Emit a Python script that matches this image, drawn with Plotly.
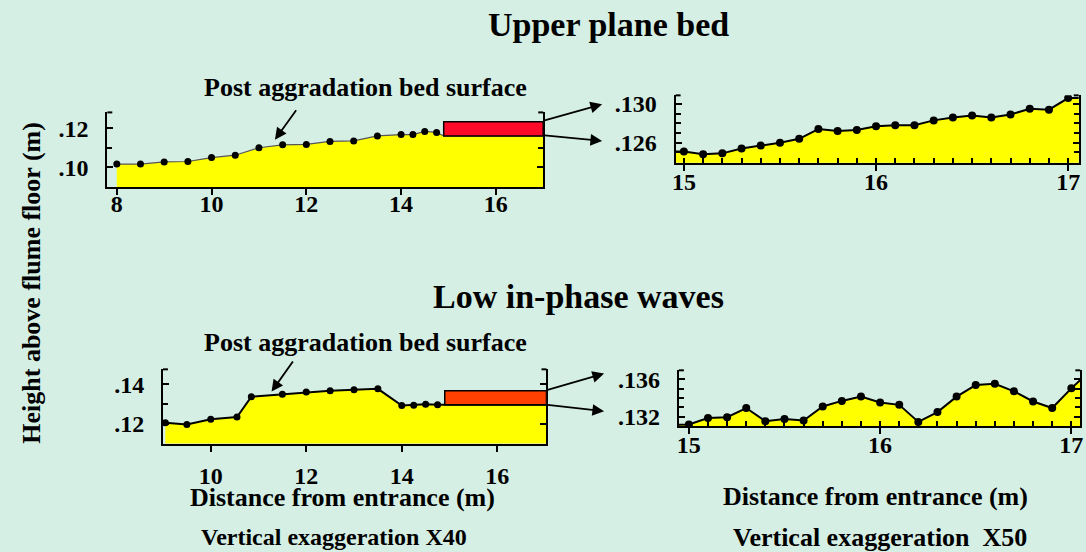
import plotly.graph_objects as go

# ---------------- data ----------------
# Upper plane bed, full flume (left) and zoomed 15-17 m (right)
upper_x = [8.0, 8.5, 9.0, 9.5, 10.0, 10.5, 11.0, 11.5, 12.0, 12.5, 13.0, 13.5, 14.0, 14.25, 14.5, 14.75]
upper_y = [0.1017, 0.1017, 0.1028, 0.1030, 0.1050, 0.1062, 0.1100, 0.1115, 0.1117, 0.1132, 0.1135,
           0.1160, 0.1167, 0.1167, 0.1183, 0.1178]
upper_box_x = [14.9, 17.0]
upper_box_y = [0.1160, 0.1233]

upper_zoom_x = [14.9, 15.0, 15.1, 15.2, 15.3, 15.4, 15.5, 15.6, 15.7, 15.8, 15.9, 16.0, 16.1, 16.2,
                16.3, 16.4, 16.5, 16.6, 16.7, 16.8, 16.9, 17.0, 17.1]
upper_zoom_y = [0.1251, 0.1251, 0.1248, 0.1249, 0.1254, 0.1257, 0.1260, 0.1264, 0.1274, 0.1272, 0.1273,
                0.1277, 0.1278, 0.1278, 0.1283, 0.1286, 0.1288, 0.1286, 0.1289, 0.1295, 0.1294, 0.1306, 0.1306]

# Low in-phase waves
low_x = [9.05, 9.5, 10.0, 10.55, 10.85, 11.5, 12.0, 12.5, 13.0, 13.5, 14.0, 14.25, 14.5, 14.75]
low_y = [0.1205, 0.1197, 0.1223, 0.1235, 0.1338, 0.1350, 0.1362, 0.1368, 0.1373, 0.1378,
         0.1293, 0.1295, 0.1300, 0.1297]
low_box_x = [14.9, 17.03]
low_box_y = [0.1297, 0.1368]

low_zoom_x = [14.9, 15.0, 15.1, 15.2, 15.3, 15.4, 15.5, 15.6, 15.7, 15.8, 15.9, 16.0, 16.1, 16.2,
              16.3, 16.4, 16.5, 16.6, 16.7, 16.8, 16.9, 17.0, 17.1]
low_zoom_y = [0.1311, 0.13116, 0.13186, 0.13194, 0.13292, 0.13152, 0.13176, 0.13158, 0.13309, 0.13368,
              0.13414, 0.13351, 0.13326, 0.13144, 0.13249, 0.13414, 0.13537, 0.13551, 0.1347, 0.13362,
              0.13292, 0.13502, 0.1369]

# tick labels
t1_vals, t1_text = [0.10, 0.12], [".10", ".12"]
t2_vals, t2_text = [0.126, 0.130], [".126", ".130"]
t3_vals, t3_text = [0.12, 0.14], [".12", ".14"]
t4_vals, t4_text = [0.132, 0.136], [".132", ".136"]
xl_vals = [8, 10, 12, 14, 16]
xr_vals = [15, 16, 17]

# ---------------- style ----------------
W, H = 1086, 552
BG = "#d5efe4"
YEL = "#ffff00"
FONT = "Liberation Serif, Times New Roman, serif"


def px(x):
    return x / W


def py(y):
    return 1 - y / H


fig = go.Figure()


def add_panel(n, line_x, line_y, mark_x, mark_y, line_color, line_width, msize):
    xa = "x" if n == 1 else f"x{n}"
    ya = "y" if n == 1 else f"y{n}"
    fig.add_trace(go.Scatter(x=line_x, y=line_y, mode="lines", fill="tozeroy", fillcolor=YEL,
                             line=dict(color=line_color, width=line_width),
                             xaxis=xa, yaxis=ya, showlegend=False, hoverinfo="skip"))
    fig.add_trace(go.Scatter(x=mark_x, y=mark_y, mode="markers",
                             marker=dict(color="black", size=msize),
                             xaxis=xa, yaxis=ya, showlegend=False))


# panel 1 : surface continues under the box
add_panel(1, upper_x + upper_box_x, upper_y + [upper_box_y[0], upper_box_y[0]],
          upper_x, upper_y, "#555555", 1.2, 7)
add_panel(2, upper_zoom_x, upper_zoom_y, upper_zoom_x, upper_zoom_y, "black", 2, 8)
add_panel(3, low_x + low_box_x, low_y + [low_box_y[0], low_box_y[0]],
          low_x, low_y, "black", 2, 7)
add_panel(4, low_zoom_x, low_zoom_y, low_zoom_x, low_zoom_y, "black", 2, 8)

# boxes
fig.add_shape(type="rect", xref="x", yref="y", x0=upper_box_x[0], x1=upper_box_x[1],
              y0=upper_box_y[0], y1=upper_box_y[1], fillcolor="#ff0a28",
              line=dict(color="black", width=1.5), layer="above")
fig.add_shape(type="rect", xref="x3", yref="y3", x0=low_box_x[0], x1=low_box_x[1],
              y0=low_box_y[0], y1=low_box_y[1], fillcolor="#ff4000",
              line=dict(color="black", width=1.5), layer="above")

tickfont = dict(family=FONT, size=24, color="black", weight="bold")


def xaxis(domain, rng, vals, anchor, standoff, minor_dtick=None):
    d = dict(domain=domain, range=rng, anchor=anchor, showgrid=False, zeroline=False, showline=True,
             linecolor="black", linewidth=2, mirror=False, ticks="outside", ticklen=6,
             tickwidth=2, tickcolor="black", tickmode="array", tickvals=vals, tickangle=0,
             ticktext=[str(v) for v in vals], tickfont=tickfont, ticklabelstandoff=standoff)
    if minor_dtick:
        d["minor"] = dict(ticks="inside", ticklen=5, tickwidth=1.5, tickcolor="black",
                          tickmode="linear", tick0=15, dtick=minor_dtick, showgrid=False)
    return d


def yaxis(domain, rng, vals, text, minor_dtick, tick0, anchor):
    return dict(domain=domain, range=rng, anchor=anchor, showgrid=False, zeroline=False, showline=True,
                linecolor="black", linewidth=2, mirror="ticks", ticks="inside", ticklen=6,
                tickwidth=2, tickcolor="black", tickmode="array", tickvals=vals, ticktext=text,
                tickfont=tickfont, ticklabelstandoff=12,
                minor=dict(ticks="inside", ticklen=5, tickwidth=1.5, tickcolor="black",
                           tickmode="linear", tick0=tick0, dtick=minor_dtick, showgrid=False))


dom = {
    1: ([104, 542.7], [185.7, 110]),
    2: ([676, 1081.7], [161, 92.7]),
    3: ([160, 546], [446, 370.7]),
    4: ([679.3, 1083.3], [428.3, 371.7]),
}


def xd(n):
    return [px(dom[n][0][0]), px(dom[n][0][1])]


def yd(n):
    return [py(dom[n][1][0]), py(dom[n][1][1])]


fig.update_layout(
    width=W, height=H, autosize=False,
    margin=dict(l=0, r=0, t=0, b=0),
    paper_bgcolor=BG, plot_bgcolor=BG,
    xaxis=xaxis(xd(1), [7.8, 17.0], xl_vals, "y", -12),
    yaxis=yaxis(yd(1), [0.090, 0.128], t1_vals, t1_text, 0.01, 0.10, "x"),
    xaxis2=xaxis(xd(2), [14.957, 17.055], xr_vals, "y2", -9, 0.1),
    yaxis2=yaxis(yd(2), [0.12394, 0.13088], t2_vals, t2_text, 0.001, 0.126, "x2"),
    xaxis3=xaxis(xd(3), [9.0, 17.03], xl_vals[1:], "y3", 4),
    yaxis3=yaxis(yd(3), [0.110, 0.1477], t3_vals, t3_text, 0.01, 0.12, "x3"),
    xaxis4=xaxis(xd(4), [14.948, 17.047], xr_vals, "y4", -10, 0.1),
    yaxis4=yaxis(yd(4), [0.13099, 0.13695], t4_vals, t4_text, 0.001, 0.132, "x4"),
)

# small inward stubs at the top of each frame's vertical sides
for n in dom:
    (xl, xr), (yb, yt) = dom[n]
    for x0, x1 in ((xl, xl + 5), (xr, xr - 5)):
        fig.add_shape(type="line", xref="paper", yref="paper", x0=px(x0), x1=px(x1),
                      y0=py(yt), y1=py(yt), line=dict(color="black", width=2))


def text(s, x, y, size=26, angle=0):
    fig.add_annotation(text=f"<b>{s}</b>", x=px(x), y=py(y), xref="paper", yref="paper",
                       showarrow=False, xanchor="center", yanchor="middle", textangle=angle,
                       font=dict(family=FONT, size=size, color="black"))


def arrow(hx, hy, tx, ty):
    fig.add_annotation(text="", x=px(hx), y=py(hy), xref="paper", yref="paper",
                       ax=tx - hx, ay=ty - hy, showarrow=True, arrowhead=2, arrowsize=1.3,
                       arrowwidth=1.8, arrowcolor="black")


text("Upper plane bed", 608, 21, 34)
text("Low in-phase waves", 578, 297, 34)
text("Post aggradation bed surface", 364, 85)
text("Post aggradation bed surface", 364, 343)
text("Distance from entrance (m)", 341, 501)
text("Distance from entrance (m)", 877, 500)
text("Vertical exaggeration X40", 332, 541, 24)
text("Vertical exaggeration  X50", 882, 541)
text("Height above flume floor (m)", 28, 283, 26, -90)

arrow(272.7, 137.7, 295, 106.7)
arrow(269.3, 393.3, 291.7, 361.7)
arrow(602, 101.7, 543, 118.3)
arrow(602, 139, 543, 133.3)
arrow(604, 375, 546, 391.7)
arrow(604, 413.3, 546, 406.7)

fig.write_html("out.html", config={"displayModeBar": False},
               post_script="document.body.style.margin='0';document.body.style.overflow='hidden';")
